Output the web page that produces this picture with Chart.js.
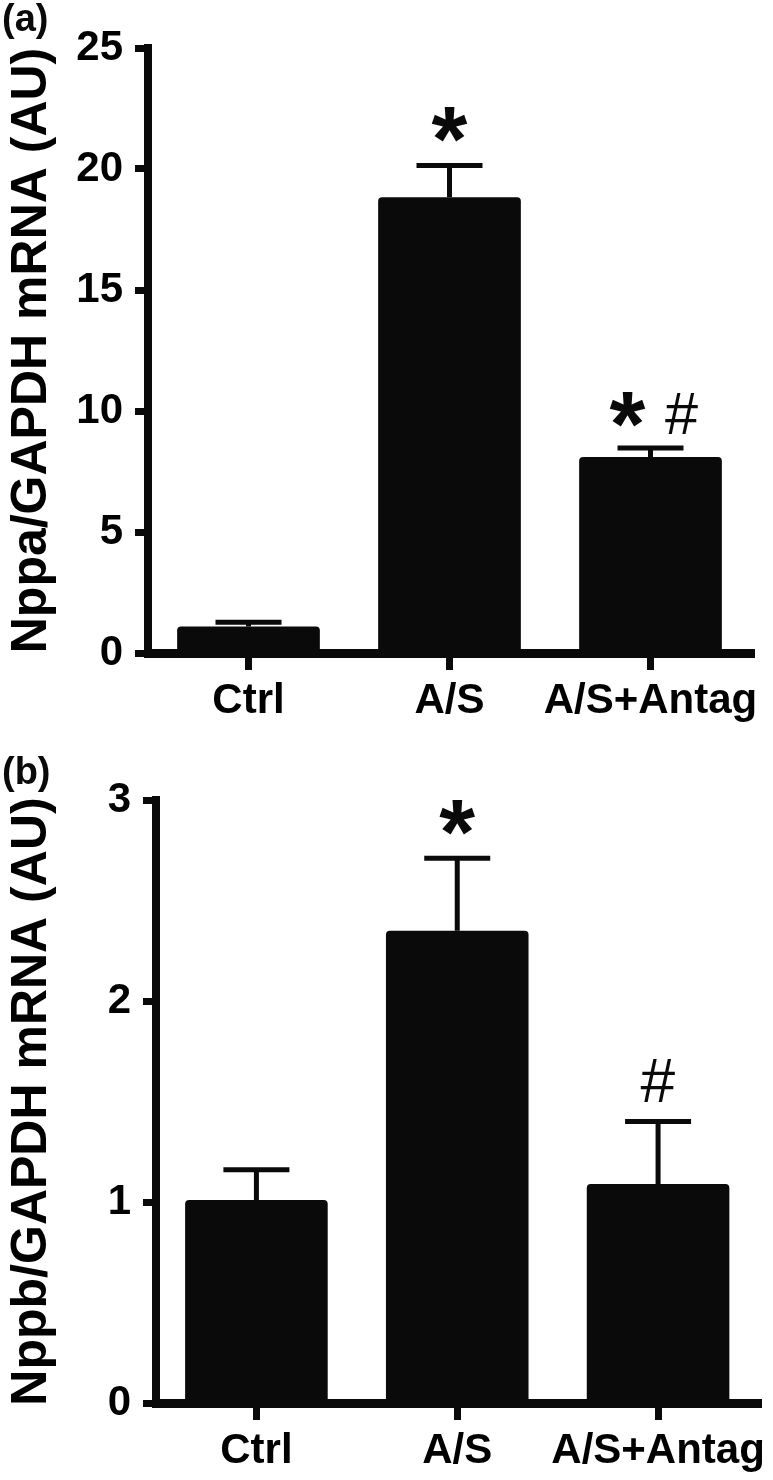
<!DOCTYPE html>
<html>
<head>
<meta charset="utf-8">
<script src="https://cdn.jsdelivr.net/npm/chart.js@4.4.0/dist/chart.umd.min.js"></script>
<style>
  body { margin: 0; background: #fff; }
  canvas { display: block; }
</style>
</head>
<body>
<canvas id="chartA" width="773" height="740"></canvas>
<canvas id="chartB" width="773" height="740"></canvas>
<script>
const groups = ['Ctrl', 'A/S', 'A/S+Antag'];

// (a) Nppa
const nppaMean = [1.1, 18.83, 8.1];
const nppaErrTop = [1.27, 20.14, 8.47]; // mean + SEM
const nppaMarks = [[], ['*'], ['*', '#']];
const nppaTicks = [0, 5, 10, 15, 20, 25];

// (b) Nppb
const nppbMean = [1.01, 2.35, 1.09];
const nppbErrTop = [1.16, 2.71, 1.40];
const nppbMarks = [[], ['*'], ['#']];
const nppbTicks = [0, 1, 2, 3];

const FONT = '"Liberation Sans", Arial, sans-serif';
const INK = '#0a0a0a';

function drawGlyph(ctx, ch, cx, cy, targetH) {
  const bold = ch === '*';
  ctx.font = (bold ? 'bold ' : '') + '100px ' + FONT;
  let m = ctx.measureText(ch);
  const size = 100 * targetH / (m.actualBoundingBoxAscent + m.actualBoundingBoxDescent);
  ctx.font = (bold ? 'bold ' : '') + size + 'px ' + FONT;
  m = ctx.measureText(ch);
  const w = m.actualBoundingBoxLeft + m.actualBoundingBoxRight;
  const h = m.actualBoundingBoxAscent + m.actualBoundingBoxDescent;
  ctx.textAlign = 'left';
  ctx.textBaseline = 'alphabetic';
  ctx.fillText(ch, cx - w / 2 + m.actualBoundingBoxLeft, cy - h / 2 + m.actualBoundingBoxAscent);
}

// error bars (upper half only) and significance marks
const errorBars = {
  id: 'errorBars',
  afterDatasetsDraw(chart, args, opts) {
    const ctx = chart.ctx;
    const x = chart.scales.x, y = chart.scales.y;
    ctx.save();
    ctx.strokeStyle = INK;
    ctx.fillStyle = INK;
    ctx.lineWidth = 5;
    opts.top.forEach((top, i) => {
      const cx = x.getPixelForValue(i);
      const yBar = y.getPixelForValue(opts.mean[i]);
      const yTop = y.getPixelForValue(top);
      ctx.beginPath();
      ctx.moveTo(cx, yBar);
      ctx.lineTo(cx, yTop);
      ctx.moveTo(cx - 33, yTop);
      ctx.lineTo(cx + 33, yTop);
      ctx.stroke();
      const marks = opts.marks[i];
      if (marks.length === 1) {
        drawGlyph(ctx, marks[0], cx, yTop - 41, marks[0] === '*' ? 35 : 43);
      } else if (marks.length === 2) {
        drawGlyph(ctx, marks[0], cx - 23, yTop - 39, 35);
        drawGlyph(ctx, marks[1], cx + 31, yTop - 35, 41);
      }
    });
    ctx.font = 'bold 38px ' + FONT;
    ctx.textAlign = 'left';
    ctx.textBaseline = 'top';
    ctx.fillText(opts.panel, 2, opts.panelY);
    ctx.restore();
  }
};

function makeChart(id, mean, errTop, marks, ticks, yMax, title, pad, axisW, xAxisH, panel, panelY) {
  return new Chart(document.getElementById(id), {
    type: 'bar',
    data: {
      labels: groups,
      datasets: [{
        data: mean,
        backgroundColor: INK,
        borderRadius: 4,
        borderSkipped: 'start',
        barPercentage: 0.71,
        categoryPercentage: 1
      }]
    },
    options: {
      responsive: false,
      animation: false,
      layout: { padding: pad },
      plugins: {
        legend: { display: false },
        tooltip: { enabled: false },
        errorBars: { mean: mean, top: errTop, marks: marks, panel: panel, panelY: panelY }
      },
      scales: {
        x: {
          afterFit: (s) => { s.height = xAxisH; },
          grid: { display: true, drawOnChartArea: false, offset: false, tickLength: 17, lineWidth: 7, color: INK },
          border: { display: true, width: 9, color: INK },
          ticks: { color: '#000', font: { family: FONT, size: 42, weight: 'bold' }, padding: 6, maxRotation: 0, autoSkip: false }
        },
        y: {
          min: 0,
          max: yMax,
          afterFit: (s) => { s.width = axisW; },
          afterBuildTicks: (s) => { s.ticks = ticks.map(v => ({ value: v })); },
          grid: { display: true, drawOnChartArea: false, tickLength: 13, lineWidth: 7, color: INK },
          border: { display: true, width: 8, color: INK },
          ticks: { color: '#000', font: { family: FONT, size: 42, weight: 'bold' }, padding: 12 },
          title: { display: true, text: title, color: '#000', font: { family: FONT, size: 50, weight: 'bold' }, padding: { top: 2, bottom: 0 } }
        }
      }
    },
    plugins: [errorBars]
  });
}

makeChart('chartA', nppaMean, nppaErrTop, nppaMarks, nppaTicks, 25, 'Nppa/GAPDH mRNA (AU)',
  { top: 48, right: 22, left: 0, bottom: 0 }, 148, 87, '(a)', 2);
makeChart('chartB', nppbMean, nppbErrTop, nppbMarks, nppbTicks, 3, 'Nppb/GAPDH mRNA (AU)',
  { top: 60, right: 13, left: 0, bottom: 0 }, 156, 77, '(b)', 15);
</script>
</body>
</html>
